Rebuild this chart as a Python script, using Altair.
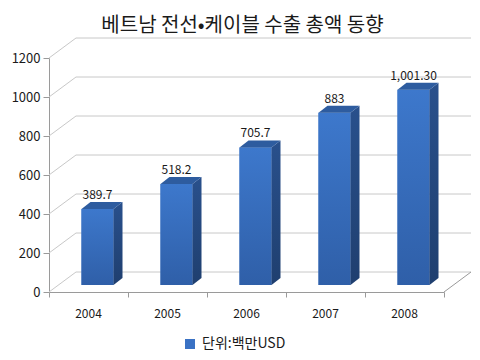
import altair as alt
import pandas as pd

# ---- data ----
years = ["2004", "2005", "2006", "2007", "2008"]
values = [389.7, 518.2, 705.7, 883, 1001.3]
value_labels = ["389.7", "518.2", "705.7", "883", "1,001.30"]
y_ticks = [0, 200, 400, 600, 800, 1000, 1200]
series_name = "단위:백만USD"
title_text = "베트남 전선•케이블 수출 총액 동향"

# ---- layout / style ----
W, H = 395, 234
XMAX, YMAX = 5, 1200
PX = W / XMAX          # px per x unit
PY = H / YMAX          # px per y unit
FONT = "Noto Sans CJK KR"

WALL_DX, WALL_DY = 27 / PX, 20 / PY     # depth of back wall
BAR_DX, BAR_DY = 9 / PX, 7 / PY         # bar front offset (mid depth)
SIDE_DX, SIDE_DY = 9 / PX, 7 / PY       # bar depth
HALF_W = 16 / PX

xs = alt.Scale(domain=[0, XMAX], nice=False, zero=False)
ys = alt.Scale(domain=[0, YMAX], nice=False, zero=False)
AX_COL = "#9a9a9a"
GRID_COL = "#c8c8c8"

x_axis = alt.Axis(values=list(range(0, XMAX + 1)), labels=False, ticks=True, tickSize=5,
                  tickColor=AX_COL, domainColor=AX_COL, grid=False, title=None)
y_axis = alt.Axis(values=y_ticks, format="d", tickSize=6, tickColor=AX_COL, domainColor=AX_COL, grid=False,
                  title=None, labelFont=FONT, labelFontSize=13, labelColor="#1a1a1a", labelPadding=3)


def X(f):
    return alt.X(f, type="quantitative", scale=xs, axis=x_axis)


def Y(f):
    return alt.Y(f, type="quantitative", scale=ys, axis=y_axis, stack=None)


# ---- tables ----
grid = pd.DataFrame({"v": y_ticks})
grid["x0"] = 0.0
grid["x1"] = WALL_DX
grid["xe"] = XMAX + WALL_DX
grid["vb"] = grid["v"] + WALL_DY

floor = pd.DataFrame({"x0": [XMAX], "x1": [XMAX + WALL_DX], "y0": [0], "y1": [WALL_DY]})

bars = pd.DataFrame({"year": years, "value": values, "label": value_labels})
bars["c"] = [i + 0.5 for i in range(len(years))]
bars["xl"] = bars["c"] - HALF_W + BAR_DX
bars["xr"] = bars["c"] + HALF_W + BAR_DX
bars["yb"] = BAR_DY
bars["yt"] = bars["value"] + BAR_DY
bars["series"] = series_name
bars["xt"] = bars["c"] + BAR_DX
bars["ytt"] = bars["yt"] + SIDE_DY

side_rows, top_rows = [], []
for _, r in bars.iterrows():
    side_rows.append({"year": r.year, "x": r.xr, "y": r.yt, "y2": r.yb})
    side_rows.append({"year": r.year, "x": r.xr + SIDE_DX, "y": r.yt + SIDE_DY, "y2": r.yb + SIDE_DY})
    top_rows.append({"year": r.year, "y": r.yt, "x": r.xl, "x2": r.xr})
    top_rows.append({"year": r.year, "y": r.yt + SIDE_DY, "x": r.xl + SIDE_DX, "x2": r.xr + SIDE_DX})
side = pd.DataFrame(side_rows)
top = pd.DataFrame(top_rows)

# ---- layers ----
diag = alt.Chart(grid).mark_rule(color=GRID_COL, strokeWidth=1).encode(
    x=X("x0"), x2="x1", y=Y("v"), y2="vb")
wall = alt.Chart(grid).mark_rule(color=GRID_COL, strokeWidth=1).encode(
    x=X("x1"), x2="xe", y=Y("vb"), y2="vb")
floor_diag = alt.Chart(floor).mark_rule(color=AX_COL, strokeWidth=1).encode(
    x=X("x0"), x2="x1", y=Y("y0"), y2="y1")

front_legend = alt.Chart(bars).mark_bar().encode(
    x=X("xl"), x2="xr", y=Y("yt"), y2="yb",
    color=alt.Color("series:N", scale=alt.Scale(range=["#3a72c4"]),
                    legend=alt.Legend(orient="none", legendX=134, legendY=279, title=None,
                                      symbolType="square", symbolSize=100, symbolStrokeWidth=0,
                                      labelFont=FONT, labelFontSize=14, labelColor="#1a1a1a",
                                      labelOffset=5)))

front = alt.Chart(bars).mark_bar(color={
    "gradient": "linear", "x1": 0, "y1": 0, "x2": 0, "y2": 1,
    "stops": [{"offset": 0, "color": "#3d78cc"}, {"offset": 1, "color": "#2f5fa8"}]}).encode(
    x=X("xl"), x2="xr", y=Y("yt"), y2="yb")

side_face = alt.Chart(side).mark_area(orient="vertical", color={
    "gradient": "linear", "x1": 0, "y1": 0, "x2": 0, "y2": 1,
    "stops": [{"offset": 0, "color": "#29508c"}, {"offset": 1, "color": "#1f3f6f"}]}).encode(
    x=X("x"), y=Y("y"), y2="y2", detail="year:N")

top_face = alt.Chart(top).mark_area(orient="horizontal", color="#2e5c9f").encode(
    y=Y("y"), x=X("x"), x2="x2", detail="year:N")

val_text = alt.Chart(bars).mark_text(font=FONT, fontSize=12, color="#1a1a1a", baseline="bottom", dy=0).encode(
    x=X("xt"), y=Y("ytt"), text="label:N")

year_text = alt.Chart(bars).mark_text(font=FONT, fontSize=12, color="#1a1a1a", baseline="middle").encode(
    x=X("c"), y=alt.value(H + 22), text="year:N")

chart = alt.layer(diag, wall, floor_diag, front_legend, front, side_face, top_face, val_text, year_text).properties(
    width=W, height=H,
    title=alt.Title(title_text, font=FONT, fontSize=20, fontWeight="normal", color="#1a1a1a",
                    anchor="middle", offset=2, dx=-4),
    autosize=alt.AutoSizeParams(type="none"),
    padding={"left": 41, "top": 50, "right": 28, "bottom": 60},
).configure_view(stroke=None)

chart.save("out.html", embed_options={"renderer": "svg", "actions": False})
